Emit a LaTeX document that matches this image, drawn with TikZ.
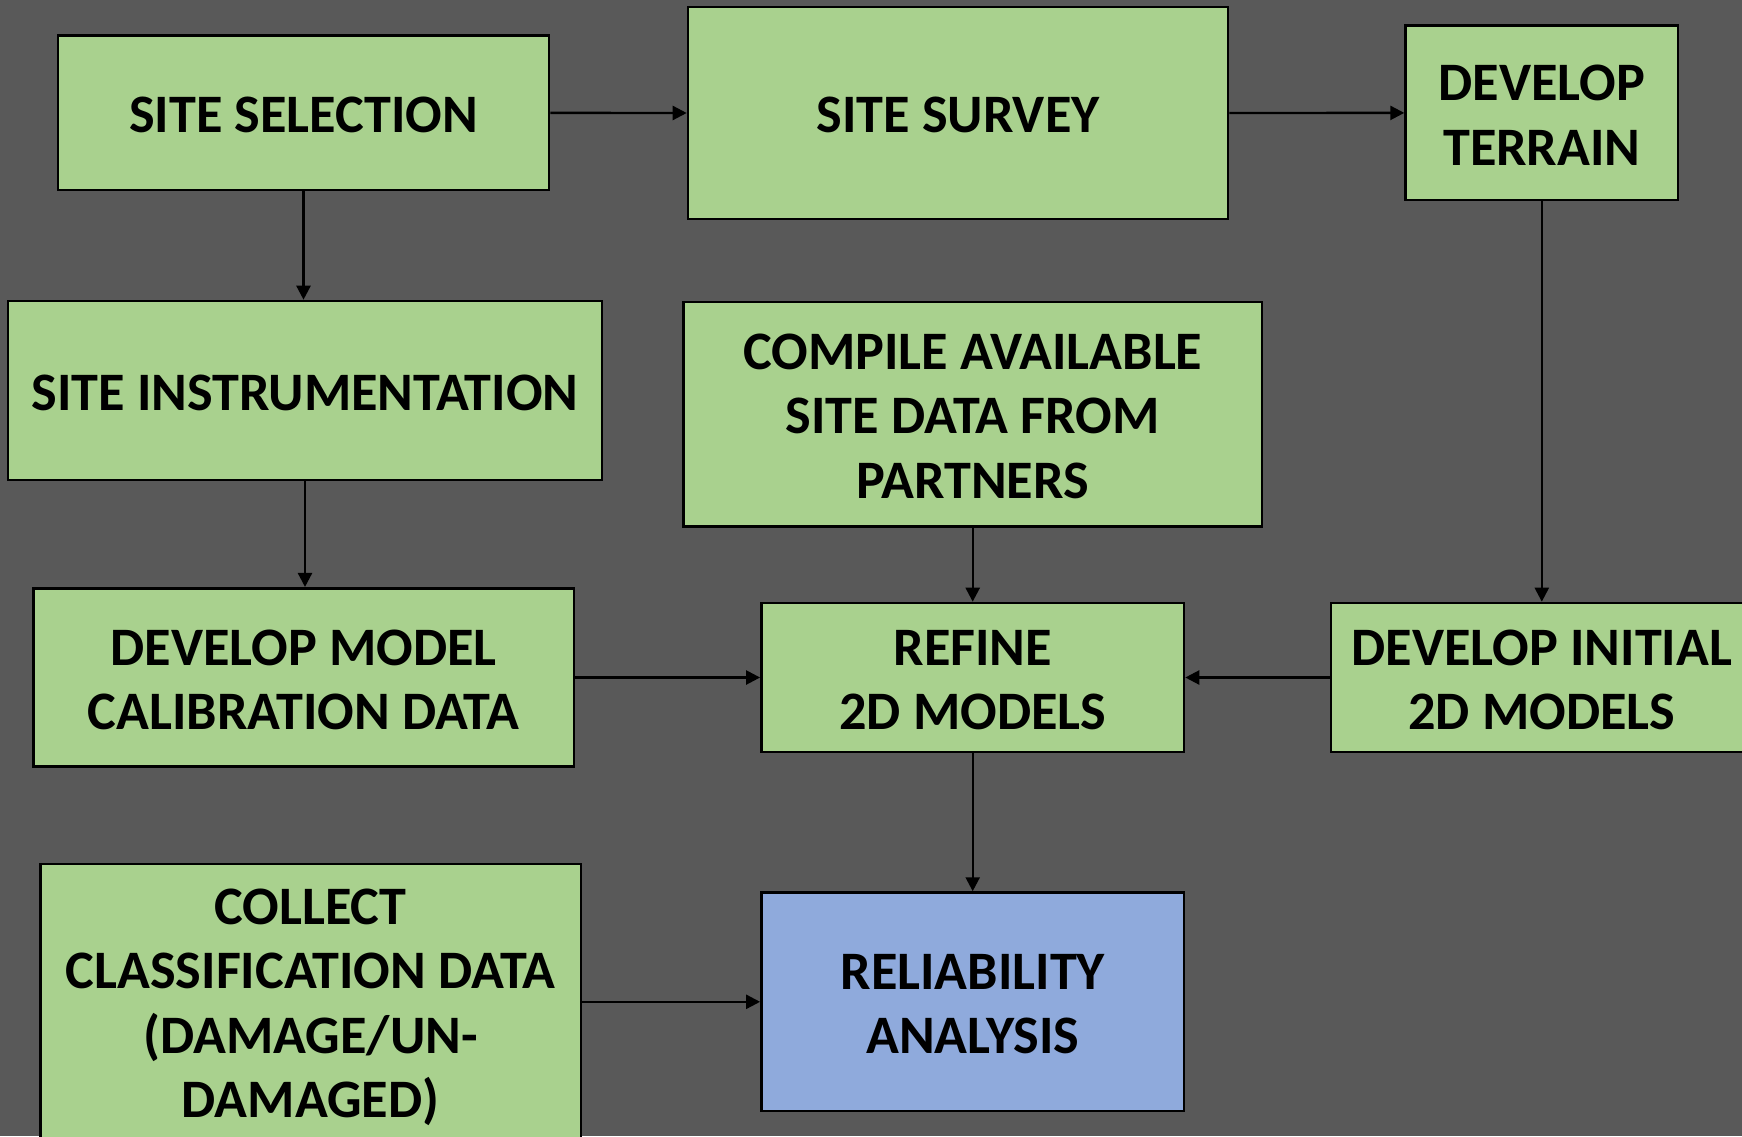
\documentclass[tikz,border=0pt]{standalone}
\usepackage{fontspec}
\setmainfont{Carlito}
\usetikzlibrary{arrows.meta}
\definecolor{bg}{HTML}{595959}
\definecolor{boxgreen}{HTML}{A9D18E}
\definecolor{boxblue}{HTML}{8FAADC}
% taller first line, so the caps sit a little below the box centre
\newcommand\capstrut{\rule{0pt}{40pt}}

\begin{document}
\begin{tikzpicture}[x=1pt,y=-1pt,
  stage/.style={draw=black, line width=2.6pt, fill=boxgreen, inner sep=0pt,
    align=center, font=\fontsize{54.2}{64.4}\selectfont\bfseries},
  goal/.style={stage, fill=boxblue},
  flow/.style={line width=2.4pt, -{Triangle[length=14pt,width=14pt]}}]

% canvas
\useasboundingbox (0,0) rectangle (1742,1136);
\fill[bg] (0,0) rectangle (1742,1136);
\clip (0,0) rectangle (1742,1136);

% process boxes
\node[stage, minimum width=491pt,   minimum height=154.3pt] (sel)     at (303.5,112.9)  {\capstrut SITE SELECTION};
\node[stage, minimum width=540pt,   minimum height=212pt]   (survey)  at (958,113)      {\capstrut SITE SURVEY};
\node[stage, minimum width=272.4pt, minimum height=174.3pt] (terrain) at (1541.8,112.9) {\capstrut DEVELOP\\TERRAIN};
\node[stage, minimum width=594pt,   minimum height=179pt]   (instr)   at (305,390.5)    {\capstrut SITE INSTRUMENTATION};
\node[stage, minimum width=578.6pt, minimum height=224.6pt] (compile) at (972.7,414.1)  {\capstrut COMPILE AVAILABLE\\SITE DATA FROM\\PARTNERS};
\node[stage, minimum width=540.7pt, minimum height=178.5pt] (model)   at (303.6,677.5)  {\capstrut DEVELOP MODEL\\CALIBRATION DATA};
\node[stage, minimum width=422.6pt, minimum height=149pt]   (refine)  at (972.7,677.5)  {\capstrut REFINE\\2D MODELS};
\node[stage, minimum width=421.6pt, minimum height=149pt]   (initial) at (1541.8,677.5) {\capstrut DEVELOP INITIAL\\2D MODELS};
\node[stage, minimum width=540.8pt, minimum height=282.4pt] (collect) at (310.6,1005)   {\capstrut COLLECT\\CLASSIFICATION DATA\\(DAMAGE/UN-\\DAMAGED)};
\node[goal,  minimum width=422.6pt, minimum height=218.5pt] (reliab)  at (972.7,1001.8) {\capstrut RELIABILITY\\ANALYSIS};

% connectors
\draw[flow] (sel.east) -- (survey.west);
\draw[flow] (survey.east) -- (terrain.west);
\draw[flow] (sel.south) -- (sel.south |- instr.north);
\draw[flow] (instr.south) -- (instr.south |- model.north);
\draw[flow] (terrain.south) -- (initial.north);
\draw[flow] (compile.south) -- (refine.north);
\draw[flow] (model.east) -- (refine.west);
\draw[flow] (initial.west) -- (refine.east);
\draw[flow] (refine.south) -- (reliab.north);
\draw[flow] (reliab.west -| collect.east) -- (reliab.west);
\end{tikzpicture}
\end{document}
